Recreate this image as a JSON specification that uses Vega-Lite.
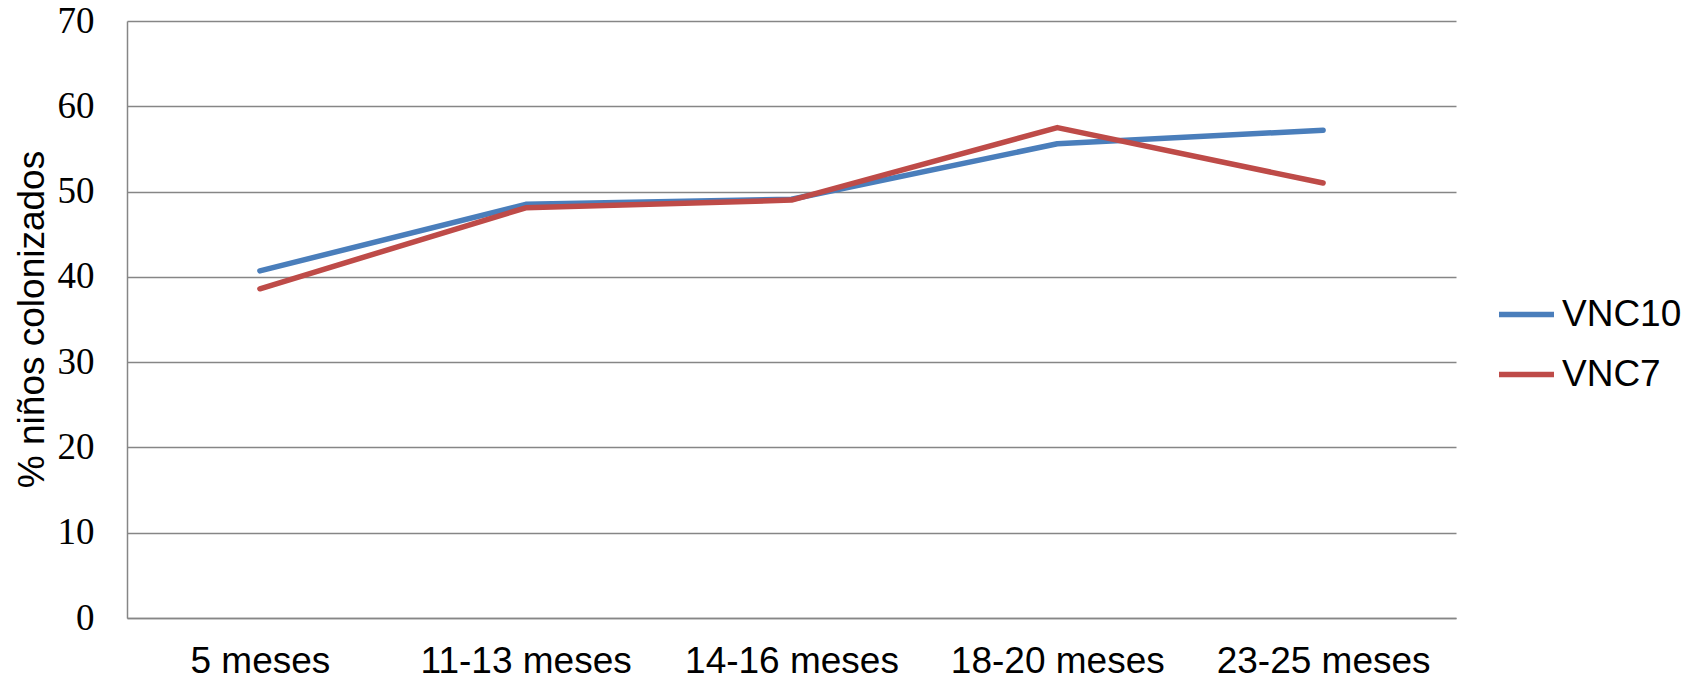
{
  "$schema": "https://vega.github.io/schema/vega-lite/v6.json",
  "autosize": {"type": "none"},
  "padding": {"left": 127, "top": 21, "right": 234, "bottom": 62},
  "width": 1329,
  "height": 597,
  "background": "white",
  "config": {
    "view": {"stroke": null},
    "axis": {"gridColor": "#868686", "gridWidth": 1.5, "domainColor": "#868686", "domainWidth": 1.5}
  },
  "data": {
    "values": [
      {"periodo": "5 meses", "serie": "VNC10", "pct": 40.7},
      {"periodo": "11-13 meses", "serie": "VNC10", "pct": 48.5},
      {"periodo": "14-16 meses", "serie": "VNC10", "pct": 49.1},
      {"periodo": "18-20 meses", "serie": "VNC10", "pct": 55.6},
      {"periodo": "23-25 meses", "serie": "VNC10", "pct": 57.2},
      {"periodo": "5 meses", "serie": "VNC7", "pct": 38.6},
      {"periodo": "11-13 meses", "serie": "VNC7", "pct": 48.1},
      {"periodo": "14-16 meses", "serie": "VNC7", "pct": 49.0},
      {"periodo": "18-20 meses", "serie": "VNC7", "pct": 57.5},
      {"periodo": "23-25 meses", "serie": "VNC7", "pct": 51.0}
    ]
  },
  "mark": {"type": "line", "strokeWidth": 5.5, "strokeCap": "round", "strokeJoin": "round"},
  "encoding": {
    "x": {
      "field": "periodo",
      "type": "ordinal",
      "sort": ["5 meses", "11-13 meses", "14-16 meses", "18-20 meses", "23-25 meses"],
      "scale": {"type": "point", "padding": 0.5},
      "axis": {
        "title": null,
        "ticks": false,
        "grid": false,
        "labelAngle": 0,
        "labelFont": "Liberation Sans",
        "labelFontSize": 37,
        "labelColor": "#000000",
        "labelPadding": 25,
        "labelLimit": 0,
        "labelOverlap": false,
        "domain": true
      }
    },
    "y": {
      "field": "pct",
      "type": "quantitative",
      "scale": {"domain": [0, 70], "nice": false, "zero": true},
      "axis": {
        "values": [0, 10, 20, 30, 40, 50, 60, 70],
        "ticks": false,
        "grid": true,
        "labelFont": "Liberation Serif",
        "labelFontSize": 37,
        "labelColor": "#000000",
        "labelPadding": 33,
        "title": "% niños colonizados",
        "titleFont": "Liberation Sans",
        "titleFontSize": 37,
        "titleFontWeight": "normal",
        "titleColor": "#000000",
        "titleAngle": -90,
        "titleX": -95,
        "titleY": 298,
        "titleAlign": "center",
        "titleBaseline": "middle"
      }
    },
    "color": {
      "field": "serie",
      "type": "nominal",
      "scale": {"domain": ["VNC10", "VNC7"], "range": ["#4A7EBB", "#BE4B48"]},
      "legend": {
        "title": null,
        "orient": "none",
        "legendX": 1369,
        "legendY": 263,
        "symbolType": "stroke",
        "symbolSize": 3025,
        "symbolStrokeWidth": 5.5,
        "labelFont": "Liberation Sans",
        "labelFontSize": 37,
        "labelColor": "#000000",
        "labelOffset": 5,
        "labelLimit": 0,
        "rowPadding": 11
      }
    }
  }
}
